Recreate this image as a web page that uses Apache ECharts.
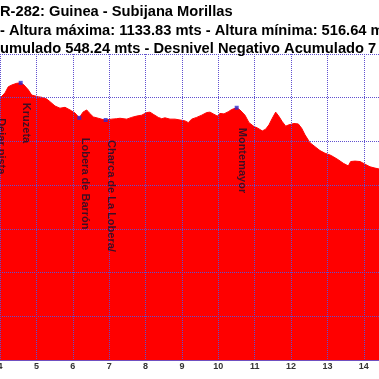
<!DOCTYPE html>
<html>
<head>
<meta charset="utf-8">
<script src="https://cdn.jsdelivr.net/npm/echarts@6/dist/echarts.min.js"></script>
<style>html,body{margin:0;padding:0;background:#fff}#c{width:379px;height:379px}</style>
</head>
<body>
<div id="c"></div>
<script>
var titleLines = [
  'R-282: Guinea - Subijana Morillas',
  '- Altura máxima: 1133.83 mts - Altura mínima: 516.64 mts',
  'umulado 548.24 mts - Desnivel Negativo Acumulado 7'
];
var km = [3.835,4.0,4.137,4.228,4.322,4.459,4.569,4.660,4.778,4.871,4.962,5.053,5.146,5.284,5.374,5.512,5.649,5.787,5.924,6.062,6.180,6.281,6.383,6.455,6.565,6.702,6.831,6.905,7.070,7.208,7.299,7.483,7.620,7.758,7.895,8.032,8.123,8.214,8.351,8.445,8.535,8.673,8.810,8.948,9.085,9.176,9.269,9.407,9.544,9.682,9.772,9.863,9.973,10.047,10.157,10.276,10.369,10.506,10.597,10.734,10.844,10.982,11.073,11.210,11.303,11.394,11.485,11.578,11.669,11.760,11.853,11.944,12.081,12.200,12.293,12.384,12.521,12.659,12.796,12.933,13.071,13.162,13.299,13.437,13.574,13.640,13.758,13.896,14.033,14.170,14.308,14.418,14.5];
var elev = [1096,1099,1111,1125,1129,1133,1134,1129,1118,1106,1104,1102,1101,1097,1091,1081,1076,1078,1072,1065,1054,1067,1072,1065,1056,1053,1050,1049,1051,1052,1053,1051,1055,1058,1060,1066,1067,1062,1055,1052,1054,1051,1051,1049,1047,1043,1051,1055,1060,1066,1067,1063,1058,1064,1063,1068,1073,1077,1072,1060,1043,1034,1031,1024,1028,1038,1053,1067,1057,1045,1035,1038,1041,1040,1030,1015,997,988,979,973,969,965,958,950,944,954,955,954,948,942,939,937,935];
var wpName = ['Dejar pista','Kruzeta','Lobera de Barrón','Charca de La Lobera/','Montemayor'];
var wpKm = [3.88,4.569,6.180,6.905,10.506];
var wpElev = [1099,1134,1054,1049,1077];

var profile = km.map(function(k,i){return [k, elev[i]];});
var waypoints = wpKm.map(function(k,i){return {value:[k, wpElev[i]], name: wpName[i]};});

var chart = echarts.init(document.getElementById('c'), null, {renderer:'canvas'});
var font = 'Liberation Sans, Arial, sans-serif';
chart.setOption({
  animation: false,
  backgroundColor: '#ffffff',
  title: {
    text: titleLines.join('\n'),
    left: 0, top: 3, padding: 0,
    textStyle: {fontFamily: font, fontSize: 14.7, fontWeight: 'bold', color: '#000', lineHeight: 18.3}
  },
  grid: {left: 0, right: 0, top: 54, bottom: 19, containLabel: false, outerBoundsMode: 'none'},
  xAxis: {
    type: 'value', min: 4, max: 14.418, interval: 1, z: 5,
    axisLine: {show: true, lineStyle: {color: '#7050c0', width: 1}},
    axisTick: {show: false},
    axisLabel: {show: true, margin: 2, fontFamily: font, fontSize: 9, fontWeight: 'bold', color: '#333',
      formatter: function(v){ return (Math.abs(v - Math.round(v)) < 1e-6) ? String(Math.round(v)) : ''; }},
    splitLine: {show: true, lineStyle: {color: '#6050d0', type: 'dotted', width: 1}}
  },
  yAxis: {
    type: 'value', min: 500, max: 1200, interval: 100, z: 5,
    axisLine: {show: false}, axisTick: {show: false}, axisLabel: {show: false},
    splitLine: {show: true, lineStyle: {color: '#6050d0', type: 'dotted', width: 1}}
  },
  series: [
    {
      type: 'line', data: profile, symbol: 'none', smooth: false,
      lineStyle: {color: '#ff0000', width: 1},
      areaStyle: {color: '#ff0000', opacity: 1},
      z: 2
    },
    {
      type: 'scatter', data: waypoints, symbol: 'rect', symbolSize: 4, clip: false,
      itemStyle: {color: '#2a2ad0'}, z: 6,
      label: {
        show: true, formatter: '{b}', rotate: -90,
        position: [2, 22], align: 'left', verticalAlign: 'bottom',
        fontFamily: font, fontSize: 11, fontWeight: 'bold', color: '#10102a'
      }
    }
  ]
});
</script>
</body>
</html>
